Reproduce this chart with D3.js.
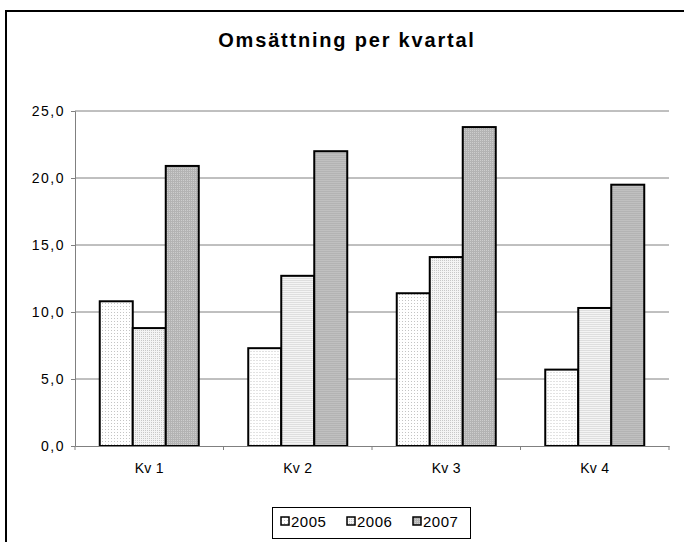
<!DOCTYPE html>
<html>
<head>
<meta charset="utf-8">
<script src="https://cdn.jsdelivr.net/npm/d3@7"></script>
<style>
  body { margin: 0; background: #fff; overflow: hidden; }
  svg { display: block; font-family: "Liberation Sans", Arial, sans-serif; }
</style>
</head>
<body>
<div id="chart"></div>
<script>
// Data för diagrammet
const title = "Omsättning per kvartal";
const categories = ["Kv 1", "Kv 2", "Kv 3", "Kv 4"];
const years = ["2005", "2006", "2007"];
const values2005 = [10.8, 7.3, 11.4, 5.7];
const values2006 = [8.8, 12.7, 14.1, 10.3];
const values2007 = [20.9, 22.0, 23.8, 19.5];
const yTicks = [0, 5, 10, 15, 20, 25];

const series = [values2005, values2006, values2007];

const width = 684;
const height = 542;

const svg = d3.select("#chart").append("svg")
  .attr("width", width)
  .attr("height", height);

// Mönster för staplarna (prickiga fyllningar som i Excel)
const defs = svg.append("defs");
const pat1 = defs.append("pattern").attr("id", "p2005")
  .attr("width", 3).attr("height", 3).attr("patternUnits", "userSpaceOnUse");
pat1.append("rect").attr("width", 3).attr("height", 3).attr("fill", "#ffffff");
pat1.append("rect").attr("width", 1).attr("height", 1).attr("fill", "#c4c4c4");

const pat2 = defs.append("pattern").attr("id", "p2006")
  .attr("width", 2).attr("height", 2).attr("patternUnits", "userSpaceOnUse");
pat2.append("rect").attr("width", 2).attr("height", 2).attr("fill", "#f4f4f4");
pat2.append("rect").attr("width", 1).attr("height", 1).attr("fill", "#c8c8c8");

const pat3 = defs.append("pattern").attr("id", "p2007")
  .attr("width", 2).attr("height", 2).attr("patternUnits", "userSpaceOnUse");
pat3.append("rect").attr("width", 2).attr("height", 2).attr("fill", "#b3b3b3");
pat3.append("rect").attr("width", 1).attr("height", 1).attr("fill", "#cdcdcd");

const fills = ["url(#p2005)", "url(#p2006)", "url(#p2007)"];

// Ram runt diagrammet (går utanför bilden till höger och nedåt)
svg.append("rect")
  .attr("x", 6).attr("y", 11)
  .attr("width", 720).attr("height", 560)
  .attr("fill", "none")
  .attr("stroke", "#000")
  .attr("stroke-width", 2);

// Titel
svg.append("text")
  .attr("x", 347).attr("y", 47)
  .attr("text-anchor", "middle")
  .attr("font-size", 20)
  .attr("font-weight", "bold")
  .attr("letter-spacing", 1.8)
  .text(title);

const plotLeft = 75, plotRight = 669, plotTop = 111, plotBottom = 446;

const x0 = d3.scaleBand().domain(categories).range([plotLeft, plotRight]).padding(0);
const x1 = d3.scaleBand().domain(years).range([0, x0.bandwidth()]).paddingInner(0).paddingOuter(0.75);
const y = d3.scaleLinear().domain([0, 25]).range([plotBottom, plotTop]);

// Stödlinjer
svg.append("g")
  .selectAll("line")
  .data(yTicks.filter(d => d > 0))
  .join("line")
  .attr("x1", plotLeft).attr("x2", plotRight)
  .attr("y1", d => y(d)).attr("y2", d => y(d))
  .attr("stroke", "#808080")
  .attr("stroke-width", 1);

// Y-axel
const yAxis = svg.append("g")
  .attr("transform", `translate(${plotLeft},0)`)
  .call(d3.axisLeft(y).tickValues(yTicks).tickSize(4).tickPadding(6)
    .tickFormat(d => d3.format(".1f")(d).replace(".", ",")));
yAxis.select(".domain").attr("stroke", "#808080");
yAxis.selectAll(".tick line").attr("stroke", "#808080");
yAxis.selectAll("text")
  .attr("font-size", 14)
  .attr("letter-spacing", 1.5)
  .attr("fill", "#000")
  .attr("font-family", "Liberation Sans, Arial, sans-serif");

// Staplar
const groups = svg.append("g")
  .selectAll("g")
  .data(categories)
  .join("g")
  .attr("transform", d => `translate(${x0(d)},0)`);

groups.selectAll("rect")
  .data((c, ci) => years.map((yr, si) => ({ yr, si, v: series[si][ci] })))
  .join("rect")
  .attr("x", d => x1(d.yr))
  .attr("y", d => y(d.v))
  .attr("width", x1.bandwidth())
  .attr("height", d => y(0) - y(d.v))
  .attr("fill", d => fills[d.si])
  .attr("stroke", "#000")
  .attr("stroke-width", 2);

// X-axel
const xAxis = svg.append("g")
  .attr("transform", `translate(0,${plotBottom})`)
  .call(d3.axisBottom(x0).tickSize(0).tickPadding(17));
xAxis.select(".domain").attr("stroke", "#808080");
xAxis.selectAll("text")
  .attr("font-size", 14)
  .attr("letter-spacing", 0.3)
  .attr("fill", "#000")
  .attr("font-family", "Liberation Sans, Arial, sans-serif");

// Skiljestreck mellan kategorierna
const bounds = categories.map(c => x0(c)).concat([plotRight]);
xAxis.selectAll(".sep")
  .data(bounds)
  .join("line")
  .attr("class", "sep")
  .attr("x1", d => d).attr("x2", d => d)
  .attr("y1", 0).attr("y2", 4)
  .attr("stroke", "#808080");

// Förklaring
const legend = svg.append("g");
legend.append("rect")
  .attr("x", 272.5).attr("y", 507.5)
  .attr("width", 198).attr("height", 31)
  .attr("fill", "#fff")
  .attr("stroke", "#000")
  .attr("stroke-width", 1);

const legX = d3.scaleOrdinal().domain(years).range([281, 347, 413]);
const items = legend.selectAll(".item")
  .data(years)
  .join("g")
  .attr("class", "item")
  .attr("transform", d => `translate(${legX(d)},517)`);
items.append("rect")
  .attr("width", 8).attr("height", 8)
  .attr("fill", (d, i) => fills[i])
  .attr("stroke", "#000")
  .attr("stroke-width", 1.5);
items.append("text")
  .attr("x", 10).attr("y", 9.5)
  .attr("font-size", 15)
  .attr("letter-spacing", 0.5)
  .text(d => d);
</script>
</body>
</html>
